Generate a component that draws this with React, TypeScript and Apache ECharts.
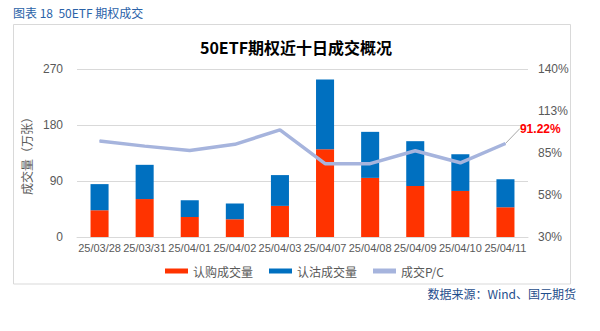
import React, { useEffect, useRef } from "react";
import * as echarts from "echarts";

const categories = ["25/03/28", "25/03/31", "25/04/01", "25/04/02", "25/04/03", "25/04/07", "25/04/08", "25/04/09", "25/04/10", "25/04/11"];
const callVolume = [43, 61, 32, 28.5, 50, 141, 95, 82, 74, 48];
const putVolume = [42, 55, 27, 25.5, 49.5, 112, 74, 72, 59, 45];
const pcRatio = [92.9, 89.5, 86.7, 90.7, 100.1, 78.0, 78.0, 86.5, 78.6, 91.22];
const leftTicks = [0, 90, 180, 270];
const rightTicks = [30, 57.5, 85, 112.5, 140];

const FONT = '"Liberation Sans", Arial, "Noto Sans CJK SC", sans-serif';
const GRAY = "#595959";
const LINE = "#a6b4dd";

export default function App() {
  const ref = useRef<HTMLDivElement>(null);
  useEffect(() => {
    if (!ref.current) return;
    const chart = echarts.init(ref.current, null, { renderer: "svg" });
    const last = pcRatio.length - 1;
    chart.setOption({
      animation: false,
      backgroundColor: "#ffffff",
      textStyle: { fontFamily: FONT },
      graphic: [
        {
          type: "text",
          left: 13,
          top: 6,
          style: { text: "图表 18  50ETF 期权成交", fill: "#2a62a8", font: '12px "Noto Sans CJK SC", sans-serif' },
        },
        {
          type: "rect",
          shape: { x: 13.5, y: 24.5, width: 557, height: 259.5 },
          style: { fill: "none", stroke: "#d9d9d9", lineWidth: 1 },
          silent: true,
        },
        {
          type: "text",
          right: 24,
          top: 287,
          style: { text: "数据来源：Wind、国元期货", fill: "#1f4e8c", font: '12px "Noto Sans CJK SC", sans-serif' },
        },
      ],
      title: {
        text: "50ETF期权近十日成交概况",
        left: 291,
        textAlign: "center",
        top: 34,
        textStyle: { fontSize: 16, fontWeight: "bold", color: "#000", fontFamily: '"Noto Sans CJK SC", sans-serif' },
      },
      legend: {
        top: 260,
        left: 160,
        itemGap: 16,
        itemWidth: 23,
        itemHeight: 5,
        textStyle: { color: GRAY, fontSize: 12, fontFamily: '"Noto Sans CJK SC", sans-serif' },
        data: [
          { name: "认购成交量", icon: "rect" },
          { name: "认沽成交量", icon: "rect" },
          { name: "成交P/C", icon: "rect", itemStyle: { color: LINE } },
        ],
      },
      grid: { left: 77, right: 72, top: 69, bottom: 94 },
      xAxis: {
        type: "category",
        data: categories,
        axisLine: { lineStyle: { color: "#d9d9d9" } },
        axisTick: { show: false },
        axisLabel: { color: GRAY, fontSize: 11, interval: 0, margin: 5 },
      },
      yAxis: [
        {
          type: "value",
          min: 0,
          max: 270,
          interval: 90,
          name: "成交量（万张）",
          nameLocation: "middle",
          nameGap: 33,
          nameTextStyle: { color: GRAY, fontSize: 12, fontFamily: '"Noto Sans CJK SC", sans-serif' },
          axisLine: { show: false },
          axisTick: { show: false },
          axisLabel: { color: GRAY, fontSize: 12, margin: 14, customValues: leftTicks },
          splitLine: { lineStyle: { color: "#d9d9d9" } },
        },
        {
          type: "value",
          min: 30,
          max: 140,
          position: "right",
          axisLine: { show: false },
          axisTick: { show: false },
          splitLine: { show: false },
          axisLabel: {
            color: GRAY,
            fontSize: 12,
            margin: 10,
            customValues: rightTicks,
            formatter: (v: number) => Math.round(v) + "%",
          },
        },
      ],
      series: [
        {
          name: "认购成交量",
          type: "bar",
          stack: "vol",
          barWidth: "40%",
          itemStyle: { color: "#ff3300" },
          data: callVolume,
        },
        {
          name: "认沽成交量",
          type: "bar",
          stack: "vol",
          barWidth: "40%",
          itemStyle: { color: "#0070c0" },
          data: putVolume,
        },
        {
          name: "成交P/C",
          type: "line",
          yAxisIndex: 1,
          symbol: "circle",
          symbolSize: 1,
          showSymbol: true,
          lineStyle: { color: LINE, width: 3.5 },
          itemStyle: { color: LINE },
          labelLayout: { dx: 10, dy: -15 },
          data: pcRatio.map((v, i) =>
            i === last
              ? {
                  value: v,
                  label: {
                    show: true,
                    position: "right",
                    distance: 4,
                    formatter: (p: any) => Number(p.value).toFixed(2) + "%",
                    color: "#ff0000",
                    fontWeight: "bold",
                    fontSize: 12,
                  },
                  labelLine: { show: true, lineStyle: { color: "#a6a6a6", width: 1 } },
                }
              : v
          ),
        },
      ],
    });
    return () => chart.dispose();
  }, []);
  return <div ref={ref} style={{ position: "fixed", left: 0, top: 0, width: 600, height: 331 }} />;
}
